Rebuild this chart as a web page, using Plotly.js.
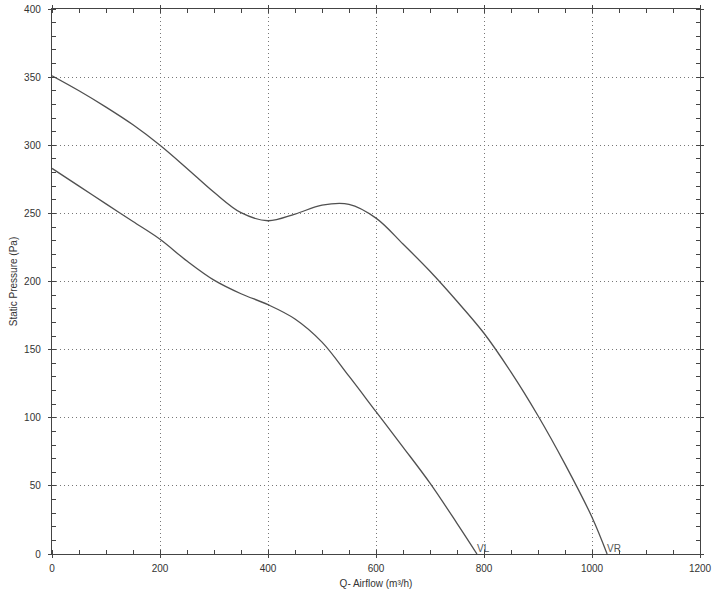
<!DOCTYPE html>
<html>
<head>
<meta charset="utf-8">
<script src="https://cdn.plot.ly/plotly-3.0.1.min.js"></script>
<style>html,body{margin:0;padding:0;background:#fff;}#chart{width:720px;height:600px;}</style>
</head>
<body>
<div id="chart"></div>
<script>
// Upper curve (VR)
const vrAirflow  = [0, 50, 100, 150, 200, 250, 300, 350, 400, 450, 500, 550, 600, 650, 700, 750, 800, 850, 900, 950, 1000, 1028];
const vrPressure = [351, 340, 328, 315, 300, 283, 265.5, 250.5, 244.6, 249.5, 256, 256.6, 246.5, 227.5, 207.5, 185.5, 162, 133.5, 101.5, 66, 27, 0];
// Lower curve (VL)
const vlAirflow  = [0, 50, 100, 150, 200, 250, 300, 350, 400, 450, 500, 550, 600, 650, 700, 750, 787];
const vlPressure = [283, 270, 257, 244, 231, 215, 201, 191, 183, 172.5, 155.5, 130.5, 104.5, 78.5, 52, 22.5, 0];
const curveNames = ["VR", "VL"];
const xTicks = [0, 200, 400, 600, 800, 1000, 1200];
const yTicks = [0, 50, 100, 150, 200, 250, 300, 350, 400];

function endLabels(arr, name) { return arr.map((v, i) => i === arr.length - 1 ? name : ""); }

const FONT = "Liberation Sans, Arial, sans-serif";
const lineStyle = {color: "#505050", width: 1.3, shape: "spline", smoothing: 1};
const traces = [
  {x: vrAirflow, y: vrPressure, mode: "lines+text", text: endLabels(vrAirflow, curveNames[0]),
   textposition: "top right", textfont: {family: FONT, size: 10, color: "#555"},
   line: lineStyle, hoverinfo: "x+y", cliponaxis: false},
  {x: vlAirflow, y: vlPressure, mode: "lines+text", text: endLabels(vlAirflow, curveNames[1]),
   textposition: "top right", textfont: {family: FONT, size: 10, color: "#555"},
   line: lineStyle, hoverinfo: "x+y", cliponaxis: false}
];

const axisCommon = {
  showline: true, linecolor: "#444", linewidth: 1.2, mirror: "ticks",
  ticks: "outside", ticklen: 3, tickcolor: "#444", tickwidth: 1,
  showgrid: true, gridcolor: "#777", griddash: "1px,3px", gridwidth: 1,
  zeroline: false,
  tickfont: {family: FONT, size: 10, color: "#333"},
  fixedrange: true
};

const layout = {
  width: 720, height: 600,
  margin: {l: 52, r: 20, t: 9, b: 46},
  paper_bgcolor: "#fff", plot_bgcolor: "#fff",
  showlegend: false,
  xaxis: Object.assign({}, axisCommon, {
    range: [0, 1200], tickvals: xTicks, ticktext: xTicks.map(String),
    ticklabelstandoff: 2,
    minor: {dtick: 50, tick0: 0, ticks: "inside", ticklen: 4, tickcolor: "#444", showgrid: false},
    title: {text: "Q- Airflow (m³/h)", standoff: 6, font: {family: FONT, size: 10, color: "#333"}}
  }),
  yaxis: Object.assign({}, axisCommon, {
    range: [0, 400], tickvals: yTicks, ticktext: yTicks.map(String),
    ticklabelstandoff: 5,
    minor: {dtick: 10, tick0: 0, ticks: "inside", ticklen: 4, tickcolor: "#444", showgrid: false},
    title: {text: "Static Pressure (Pa)", standoff: 4, font: {family: FONT, size: 10, color: "#333"}}
  })
};

Plotly.newPlot("chart", traces, layout, {displayModeBar: false, staticPlot: true});
</script>
</body>
</html>
